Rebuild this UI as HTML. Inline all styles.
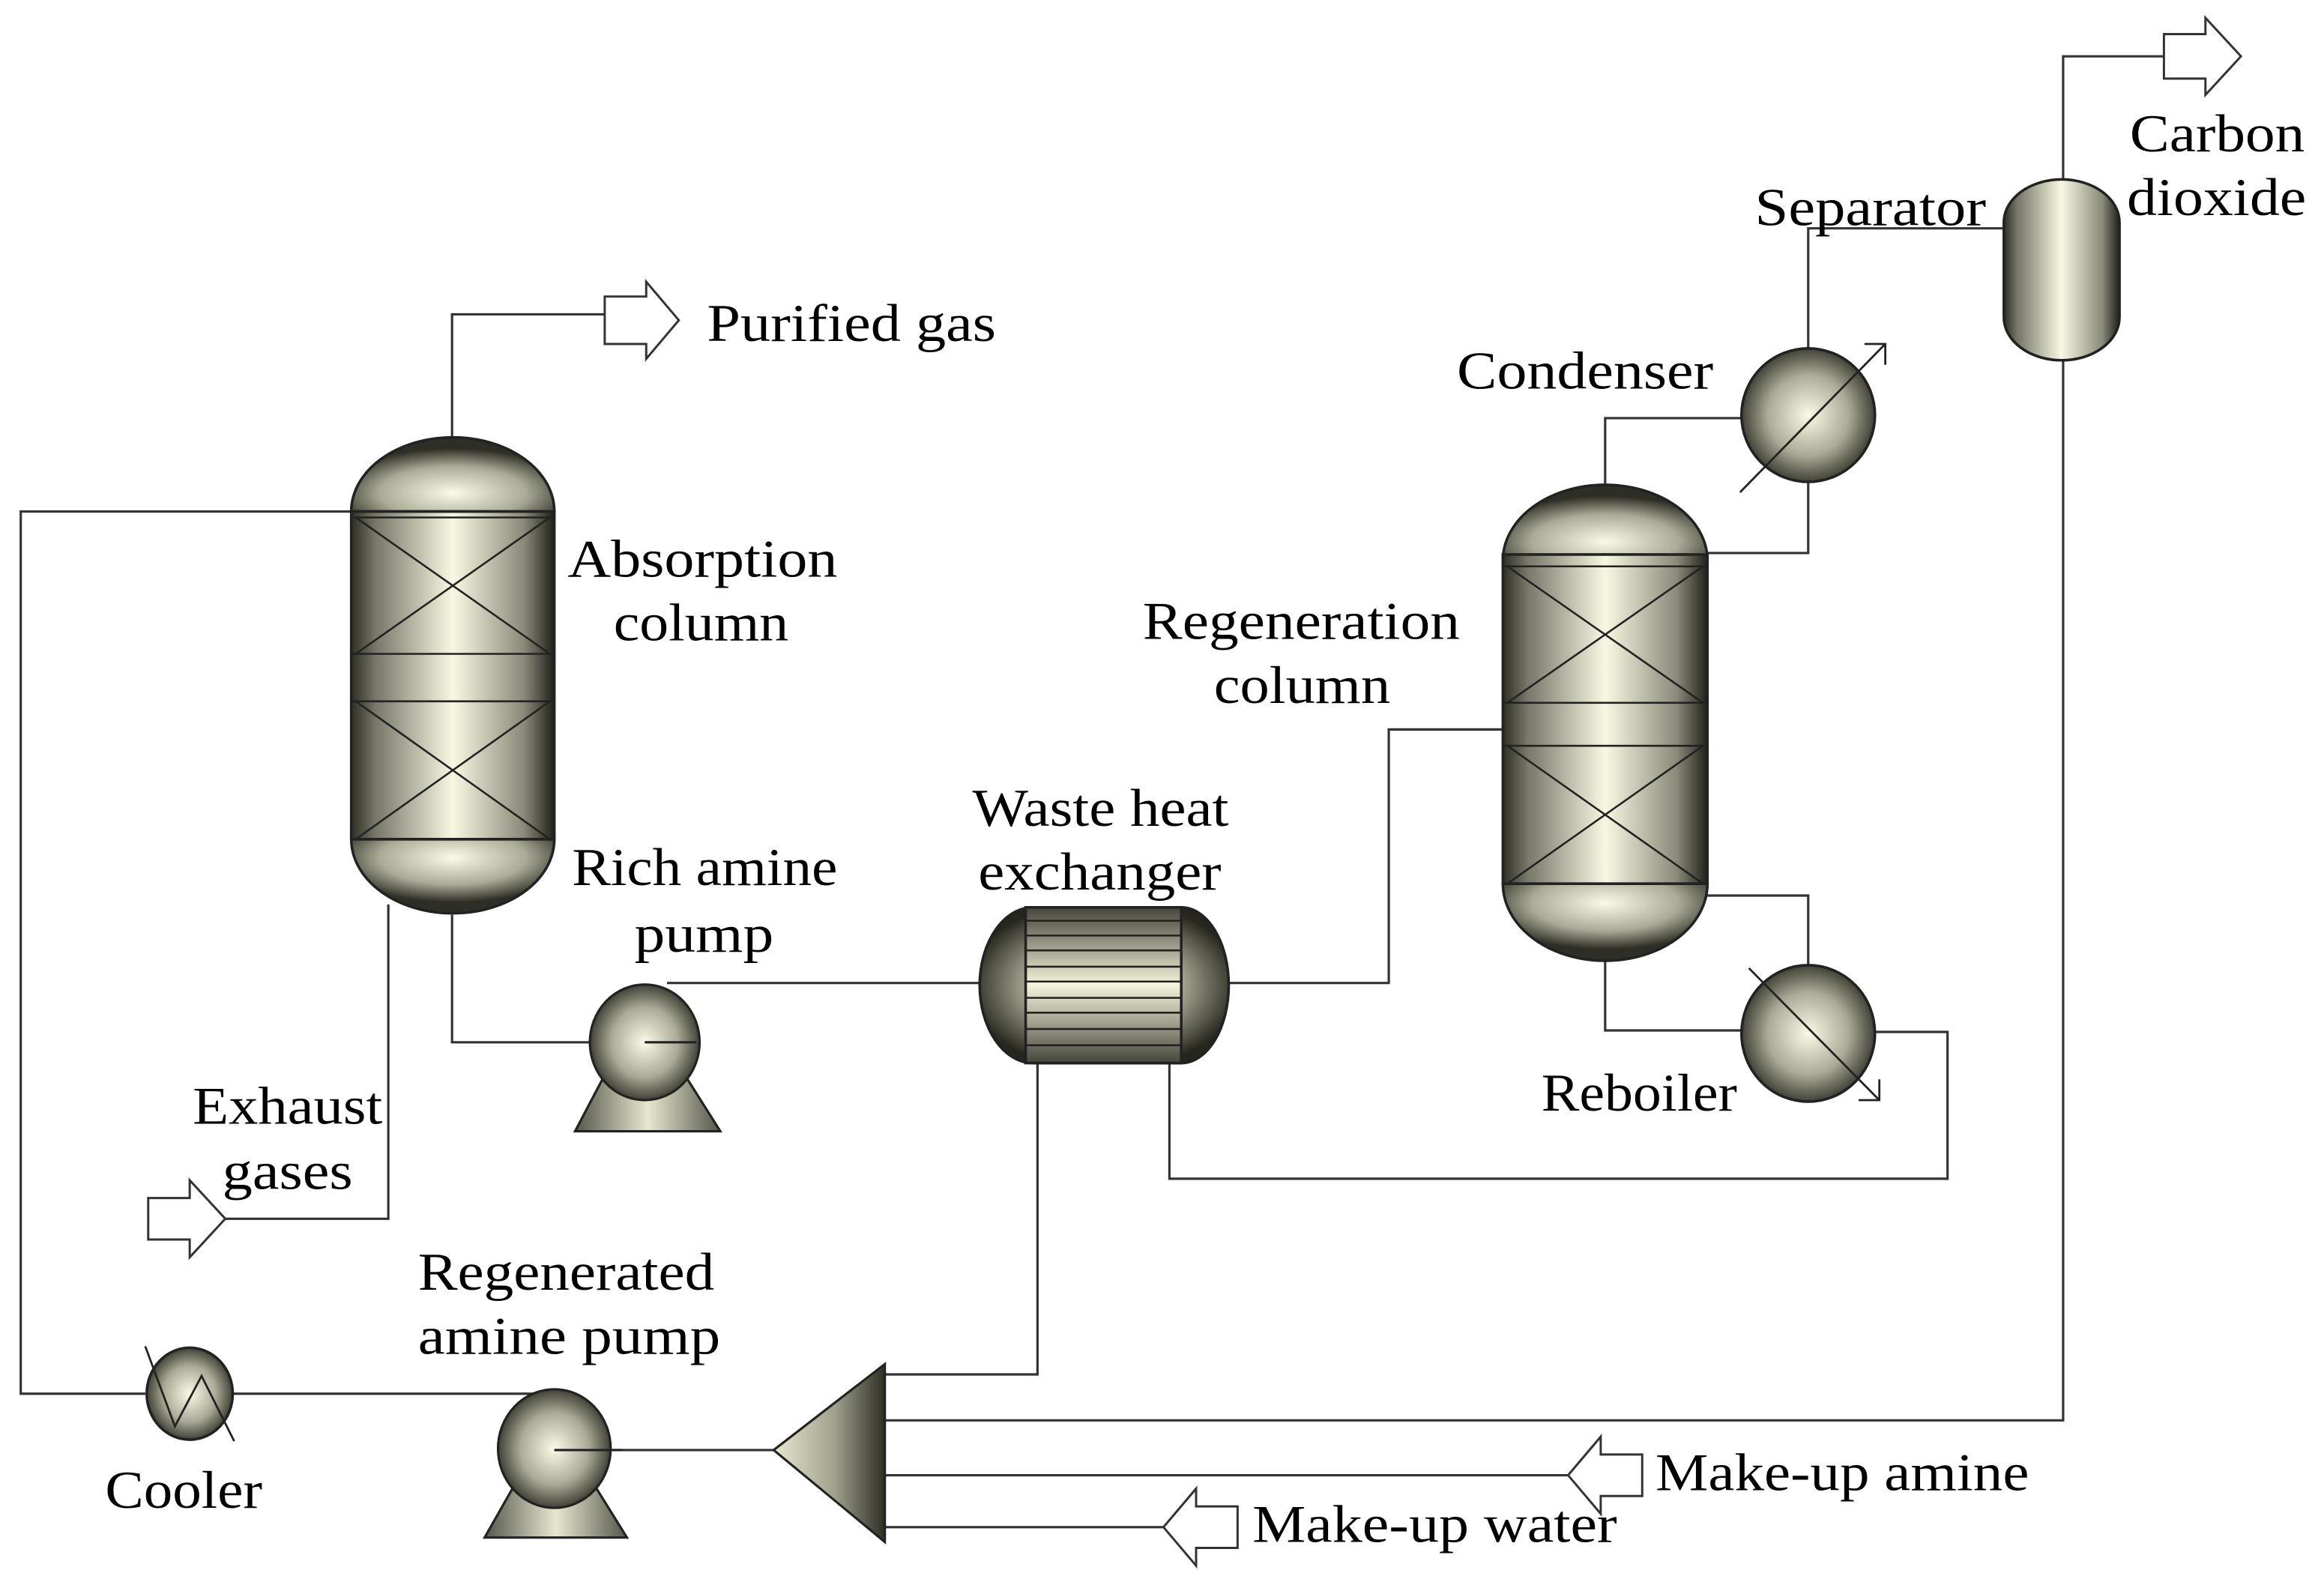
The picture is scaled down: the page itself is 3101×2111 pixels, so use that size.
<!DOCTYPE html>
<html><head><meta charset="utf-8"><style>html,body{margin:0;padding:0;background:#fff}svg{display:block}</style></head>
<body>
<svg width="3101" height="2111" viewBox="0 0 1568 1067" preserveAspectRatio="none" xmlns="http://www.w3.org/2000/svg">
<defs>
<linearGradient id="lg" x1="0" y1="0" x2="1" y2="0">
<stop offset="0" stop-color="#2e2e24"/><stop offset="0.12" stop-color="#77776a"/><stop offset="0.5" stop-color="#f8f8e2"/><stop offset="0.85" stop-color="#8a8a7a"/><stop offset="1" stop-color="#202018"/></linearGradient>
<linearGradient id="lv" x1="0" y1="0" x2="0" y2="1">
<stop offset="0" stop-color="#45453a"/><stop offset="0.5" stop-color="#f5f5dc"/><stop offset="1" stop-color="#45453a"/></linearGradient>
<radialGradient id="rg" cx="0.5" cy="0.5" r="0.55">
<stop offset="0" stop-color="#fafae6"/><stop offset="0.55" stop-color="#aaaa96"/><stop offset="1" stop-color="#26261e"/></radialGradient>
<radialGradient id="cap" cx="0.5" cy="0.75" r="0.6">
<stop offset="0" stop-color="#fafae6"/><stop offset="0.6" stop-color="#aaaa96"/><stop offset="1" stop-color="#2e2e26"/></radialGradient>
<radialGradient id="capb" cx="0.5" cy="0.25" r="0.6">
<stop offset="0" stop-color="#fafae6"/><stop offset="0.6" stop-color="#aaaa96"/><stop offset="1" stop-color="#2e2e26"/></radialGradient>
<linearGradient id="tri" x1="0" y1="0" x2="1" y2="0">
<stop offset="0" stop-color="#e8e8d0"/><stop offset="0.55" stop-color="#a0a08c"/><stop offset="1" stop-color="#2e2e26"/></linearGradient>
<linearGradient id="base" x1="0" y1="0" x2="1" y2="0">
<stop offset="0" stop-color="#55554a"/><stop offset="0.5" stop-color="#e8e8d0"/><stop offset="1" stop-color="#55554a"/></linearGradient>
</defs>
<g fill="none" stroke="#333" stroke-width="1.6">
<polyline points="305,296 305,212 408,212"/>
<polyline points="237,345 14,345 14,940 98,940"/>
<polyline points="157,940 370,940"/>
<polyline points="262,610 262,822 152,822"/>
<polyline points="305,617 305,703 435,703"/>
<polyline points="450,663 661,663"/>
<polyline points="829,663 937,663 937,492 1014,492"/>
<polyline points="789,717 789,795 1314,795 1314,696 1265,696"/>
<polyline points="700,717 700,927 597,927"/>
<polyline points="1083,327 1083,282 1175,282"/>
<polyline points="1152,373 1220,373 1220,325"/>
<polyline points="1220,235 1220,154 1352,154"/>
<polyline points="1392,121 1392,38 1460,38"/>
<polyline points="1152,604 1220,604 1220,652"/>
<polyline points="1083,648 1083,695 1175,695"/>
<polyline points="1392,243 1392,958 597,958"/>
<polyline points="1058,995 597,995"/>
<polyline points="785,1030 597,1030"/>
<polyline points="374,978 522,978"/>
</g>
<g fill="#fff" stroke="#333" stroke-width="1.5">
<polygon points="408,200 436,200 436,190 458,216 436,242 436,232 408,232"/>
<polygon points="1460,23 1488,23 1488,12 1512,38 1488,64 1488,53 1460,53"/>
<polygon points="100,808 128,808 128,796 152,822 128,848 128,836 100,836"/>
<polygon points="1108,981 1080,981 1080,969 1058,995 1080,1021 1080,1009 1108,1009"/>
<polygon points="835,1016 807,1016 807,1004 785,1030 807,1056 807,1044 835,1044"/>
</g>
<g stroke="#222" stroke-width="1.8">
<path d="M237,345 A68.5,50 0 0 1 374,345 Z" fill="url(#cap)"/>
<path d="M237,566 A68.5,50 0 0 0 374,566 Z" fill="url(#capb)"/>
<rect x="237" y="345" width="137" height="221" fill="url(#lg)"/>
<g fill="none" stroke-width="1.3"><line x1="237" y1="349" x2="374" y2="349"/><line x1="237" y1="441" x2="374" y2="441"/><line x1="237" y1="473" x2="374" y2="473"/><line x1="237" y1="566" x2="374" y2="566"/>
<line x1="240" y1="349" x2="371" y2="441"/><line x1="371" y1="349" x2="240" y2="441"/><line x1="240" y1="473" x2="371" y2="566"/><line x1="371" y1="473" x2="240" y2="566"/></g>
</g>
<g stroke="#222" stroke-width="1.8">
<path d="M1014,378 A69,51 0 0 1 1152,378 Z" fill="url(#cap)"/>
<path d="M1014,596 A69,52 0 0 0 1152,596 Z" fill="url(#capb)"/>
<rect x="1014" y="374" width="138" height="222" fill="url(#lg)"/>
<g fill="none" stroke-width="1.3"><line x1="1014" y1="382" x2="1152" y2="382"/><line x1="1014" y1="474" x2="1152" y2="474"/><line x1="1014" y1="503" x2="1152" y2="503"/><line x1="1014" y1="596" x2="1152" y2="596"/>
<line x1="1017" y1="382" x2="1149" y2="474"/><line x1="1149" y1="382" x2="1017" y2="474"/><line x1="1017" y1="503" x2="1149" y2="596"/><line x1="1149" y1="503" x2="1017" y2="596"/></g>
</g>
<g stroke="#222" stroke-width="1.8">
<path d="M1352,150 A39,29 0 0 1 1430,150 L1430,214 A39,29 0 0 1 1352,214 Z" fill="url(#lg)"/>
</g>
<g stroke="#222" stroke-width="1.8">
<path d="M697,612 L797,612 A32,52.5 0 0 1 797,717 L697,717 A36,52.5 0 0 1 697,612 Z" fill="url(#rg)"/>
<rect x="692" y="612" width="105" height="105" fill="url(#lv)"/>
<g stroke-width="1.3"><line x1="692" y1="631" x2="797" y2="631"/><line x1="692" y1="652" x2="797" y2="652"/><line x1="692" y1="673" x2="797" y2="673"/><line x1="692" y1="694" x2="797" y2="694"/><line x1="692" y1="641" x2="797" y2="641"/><line x1="692" y1="662" x2="797" y2="662"/><line x1="692" y1="683" x2="797" y2="683"/><line x1="692" y1="705" x2="797" y2="705"/><line x1="692" y1="621" x2="797" y2="621"/></g>
</g>
<g stroke="#222" stroke-width="1.8">
<ellipse cx="1220" cy="280" rx="45" ry="45" fill="url(#rg)"/>
<ellipse cx="1220" cy="697" rx="45" ry="46" fill="url(#rg)"/>
<ellipse cx="128" cy="940" rx="29" ry="31" fill="url(#rg)"/>
</g>
<g fill="none" stroke="#222" stroke-width="1.4">
<line x1="1174" y1="332" x2="1272" y2="232"/><polyline points="1258,232 1272,232 1272,246"/>
<line x1="1180" y1="653" x2="1268" y2="742"/><polyline points="1254,742 1268,742 1268,728"/>
<polyline points="98,908 118,962 136,928 158,972"/>
</g>
<g stroke="#222" stroke-width="1.6">
<polygon points="408,725 462,725 486,763 388,763" fill="url(#base)"/>
<ellipse cx="435" cy="703" rx="37" ry="39" fill="url(#rg)"/>
<polygon points="348,1000 400,1000 423,1037 327,1037" fill="url(#base)"/>
<ellipse cx="374" cy="977" rx="38" ry="40" fill="url(#rg)"/>
<polygon points="522,978 597,920 597,1040" fill="url(#tri)"/>
</g>
<g stroke="#222" stroke-width="1.6"><line x1="435" y1="703" x2="470" y2="703"/><line x1="374" y1="978" x2="420" y2="978"/></g>
<g font-family="'Liberation Serif', serif" font-size="36" fill="#000" lengthAdjust="spacingAndGlyphs">
<text x="477" y="230" textLength="195" lengthAdjust="spacingAndGlyphs">Purified gas</text>
<text x="383" y="389" textLength="182" lengthAdjust="spacingAndGlyphs">Absorption</text>
<text x="414" y="432" textLength="118" lengthAdjust="spacingAndGlyphs">column</text>
<text x="386" y="597" textLength="179" lengthAdjust="spacingAndGlyphs">Rich amine</text>
<text x="428" y="642" textLength="94" lengthAdjust="spacingAndGlyphs">pump</text>
<text x="656" y="557" textLength="173" lengthAdjust="spacingAndGlyphs">Waste heat</text>
<text x="660" y="600" textLength="164" lengthAdjust="spacingAndGlyphs">exchanger</text>
<text x="771" y="431" textLength="214" lengthAdjust="spacingAndGlyphs">Regeneration</text>
<text x="819" y="474" textLength="119" lengthAdjust="spacingAndGlyphs">column</text>
<text x="983" y="262" textLength="173" lengthAdjust="spacingAndGlyphs">Condenser</text>
<text x="1184" y="152" textLength="156" lengthAdjust="spacingAndGlyphs">Separator</text>
<text x="1437" y="102" textLength="118" lengthAdjust="spacingAndGlyphs">Carbon</text>
<text x="1435" y="145" textLength="121" lengthAdjust="spacingAndGlyphs">dioxide</text>
<text x="1040" y="749" textLength="132" lengthAdjust="spacingAndGlyphs">Reboiler</text>
<text x="130" y="758" textLength="128" lengthAdjust="spacingAndGlyphs">Exhaust</text>
<text x="150" y="802" textLength="88" lengthAdjust="spacingAndGlyphs">gases</text>
<text x="282" y="870" textLength="200" lengthAdjust="spacingAndGlyphs">Regenerated</text>
<text x="282" y="913" textLength="204" lengthAdjust="spacingAndGlyphs">amine pump</text>
<text x="71" y="1017" textLength="106" lengthAdjust="spacingAndGlyphs">Cooler</text>
<text x="1117" y="1005" textLength="252" lengthAdjust="spacingAndGlyphs">Make-up amine</text>
<text x="845" y="1040" textLength="246" lengthAdjust="spacingAndGlyphs">Make-up water</text>
</g>
</svg>
</body></html>
